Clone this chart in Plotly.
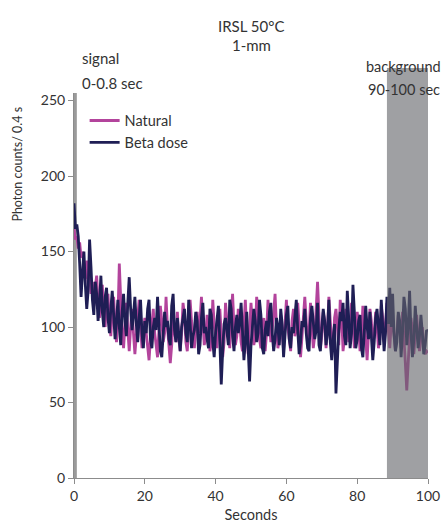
import plotly.graph_objects as go

# time axis: 0.4 s bins, 0..100 s
time_s = [round(0.4 * i, 1) for i in range(251)]

beta_dose = [
    182, 165, 168, 160, 142, 120, 136, 150, 128, 112, 124, 158, 140, 118, 108, 130, 122, 104, 116, 134, 110, 100, 120, 126, 106,
    96, 112, 124, 108, 92, 104, 118, 100, 88, 110, 122, 104, 94, 116, 133, 112, 98, 108, 120, 102, 90, 106, 118, 96, 86,
    104, 96, 112, 118, 92, 86, 100, 106, 98, 120, 102, 84, 80, 96, 110, 100, 104, 92, 88, 114, 122, 98, 90, 106, 96,
    84, 100, 108, 112, 96, 90, 118, 102, 86, 94, 98, 110, 104, 82, 88, 106, 116, 96, 100, 92, 86, 112, 108, 90, 80,
    96, 108, 114, 90, 62, 84, 102, 106, 96, 88, 118, 112, 94, 84, 100, 108, 96, 102, 116, 92, 78, 90, 110, 86, 64,
    88, 100, 112, 104, 90, 96, 118, 108, 86, 82, 98, 104, 94, 110, 116, 96, 84, 92, 106, 100, 88, 112, 102, 80, 96,
    108, 114, 92, 86, 100, 96, 110, 118, 98, 82, 90, 104, 100, 112, 96, 86, 84, 106, 114, 102, 92, 98, 116, 88, 84,
    100, 112, 104, 88, 96, 118, 90, 78, 92, 102, 56, 80, 98, 110, 104, 116, 94, 88, 124, 106, 86, 96, 128, 110, 86,
    92, 104, 108, 86, 80, 98, 114, 100, 92, 110, 96, 78, 90, 106, 112, 98, 88, 118, 104, 84, 96, 120, 102, 126, 100,
    122, 96, 84, 90, 110, 104, 80, 96, 120, 112, 88, 100, 124, 96, 80, 92, 114, 100, 86, 94, 108, 96, 82, 88, 98,
    97,
]

natural = [
    165, 158, 160, 152, 156, 146, 150, 140, 132, 144, 128, 136, 122, 130, 114, 126, 134, 116, 106, 120, 128, 110, 100, 116, 122,
    104, 94, 110, 120, 102, 90, 106, 142, 118, 96, 86, 104, 116, 98, 84, 100, 112, 96, 82, 94, 108, 118, 100, 86, 96,
    106, 96, 84, 78, 92, 100, 112, 96, 88, 80, 98, 114, 104, 90, 96, 120, 100, 84, 76, 88, 106, 98, 90, 110, 92,
    84, 96, 116, 108, 90, 84, 100, 118, 104, 92, 86, 98, 110, 96, 104, 120, 106, 88, 94, 108, 100, 84, 90, 118, 102,
    92, 86, 104, 112, 96, 80, 90, 116, 104, 96, 86, 108, 122, 100, 88, 94, 112, 104, 90, 84, 102, 118, 96, 82, 100,
    116, 102, 88, 94, 120, 110, 92, 86, 100, 106, 84, 96, 118, 104, 90, 98, 112, 122, 100, 86, 92, 108, 98, 84, 102,
    118, 100, 90, 84, 104, 112, 94, 98, 116, 102, 80, 92, 110, 120, 104, 88, 96, 116, 100, 86, 94, 112, 130, 108, 86,
    94, 110, 104, 86, 98, 120, 104, 90, 84, 106, 112, 96, 88, 118, 108, 84, 92, 112, 104, 90, 98, 116, 100, 86, 96,
    110, 100, 84, 92, 114, 106, 90, 78, 96, 112, 104, 88, 94, 110, 100, 86, 92, 114, 106, 90, 100, 116, 98, 86, 102,
    104, 94, 84, 96, 108, 100, 86, 110, 96, 76, 58, 78, 94, 106, 98, 82, 96, 108, 94, 84, 92, 100, 88, 82, 84,
    83,
]

x_ticks = [0, 20, 40, 60, 80, 100]
y_ticks = [0, 50, 100, 150, 200, 250]

FONT = "Lato, 'Open Sans', sans-serif"
TXT = "#333333"

fig = go.Figure()
fig.add_trace(go.Scatter(x=time_s, y=natural, mode="lines", name="Natural",
                         line=dict(color="#b3449c", width=2.8)))
fig.add_trace(go.Scatter(x=time_s, y=beta_dose, mode="lines", name="Beta dose",
                         line=dict(color="#1f1e55", width=2.8)))

# signal window bar (0-0.8 s)
fig.add_shape(type="rect", xref="x", yref="paper", x0=0, x1=0.8, y0=0, y1=1.0,
              fillcolor="#9a9a9a", line=dict(width=0), layer="below")
# background window (90-100 s)
fig.add_shape(type="rect", xref="x", yref="paper", x0=88.4, x1=100, y0=0, y1=1.065,
              fillcolor="rgb(100,101,106)", opacity=0.62, line=dict(width=0), layer="above")

for text, y in [("IRSL 50°C", 1.175), ("1-mm", 1.125)]:
    fig.add_annotation(xref="paper", yref="paper", x=0.5, y=y, text=text, showarrow=False,
                       xanchor="center", yanchor="middle",
                       font=dict(size=15, color=TXT, family=FONT))

fig.add_annotation(xref="paper", yref="paper", x=0.018, y=1.09, text="signal", showarrow=False,
                   xanchor="left", yanchor="middle", font=dict(size=15, color=TXT, family=FONT))
fig.add_annotation(xref="paper", yref="paper", x=0.018, y=1.025, text="0-0.8 sec", showarrow=False,
                   xanchor="left", yanchor="middle", font=dict(size=15, color=TXT, family=FONT))
fig.add_annotation(xref="paper", yref="paper", x=0.932, y=1.07, text="background", showarrow=False,
                   xanchor="center", yanchor="middle", font=dict(size=14.5, color=TXT, family=FONT))
fig.add_annotation(xref="paper", yref="paper", x=0.932, y=1.008, text="90-100 sec", showarrow=False,
                   xanchor="center", yanchor="middle", font=dict(size=14.5, color=TXT, family=FONT))
fig.add_annotation(xref="paper", yref="paper", x=-0.16, y=0.815, text="Photon counts/ 0.4 s",
                   textangle=-90, showarrow=False, xanchor="center", yanchor="middle",
                   font=dict(size=12.5, color=TXT, family=FONT))

fig.update_layout(
    width=444, height=523,
    margin=dict(l=74, r=16, t=93, b=45, autoexpand=False),
    paper_bgcolor="white", plot_bgcolor="white",
    font=dict(family=FONT, size=14, color=TXT),
    showlegend=True,
    legend=dict(x=0.03, y=0.97, xanchor="left", yanchor="top", bgcolor="rgba(0,0,0,0)",
                font=dict(size=14.5, color=TXT, family=FONT), itemwidth=30, tracegroupgap=4),
    xaxis=dict(range=[0, 100], tickvals=x_ticks, showgrid=False, zeroline=False,
               showline=True, linecolor="#8c8c8c", linewidth=1, automargin=False,
               ticks="outside", ticklen=5, tickcolor="#8c8c8c",
               tickfont=dict(size=14, color=TXT, family=FONT),
               title=dict(text="Seconds", font=dict(size=14.5, color=TXT, family=FONT), standoff=8)),
    yaxis=dict(range=[0, 255], tickvals=y_ticks, showgrid=False, zeroline=False,
               showline=True, linecolor="#8c8c8c", linewidth=1, automargin=False,
               ticks="outside", ticklen=5, tickcolor="#8c8c8c",
               tickfont=dict(size=14, color=TXT, family=FONT)),
)

fig.write_html("out.html")
